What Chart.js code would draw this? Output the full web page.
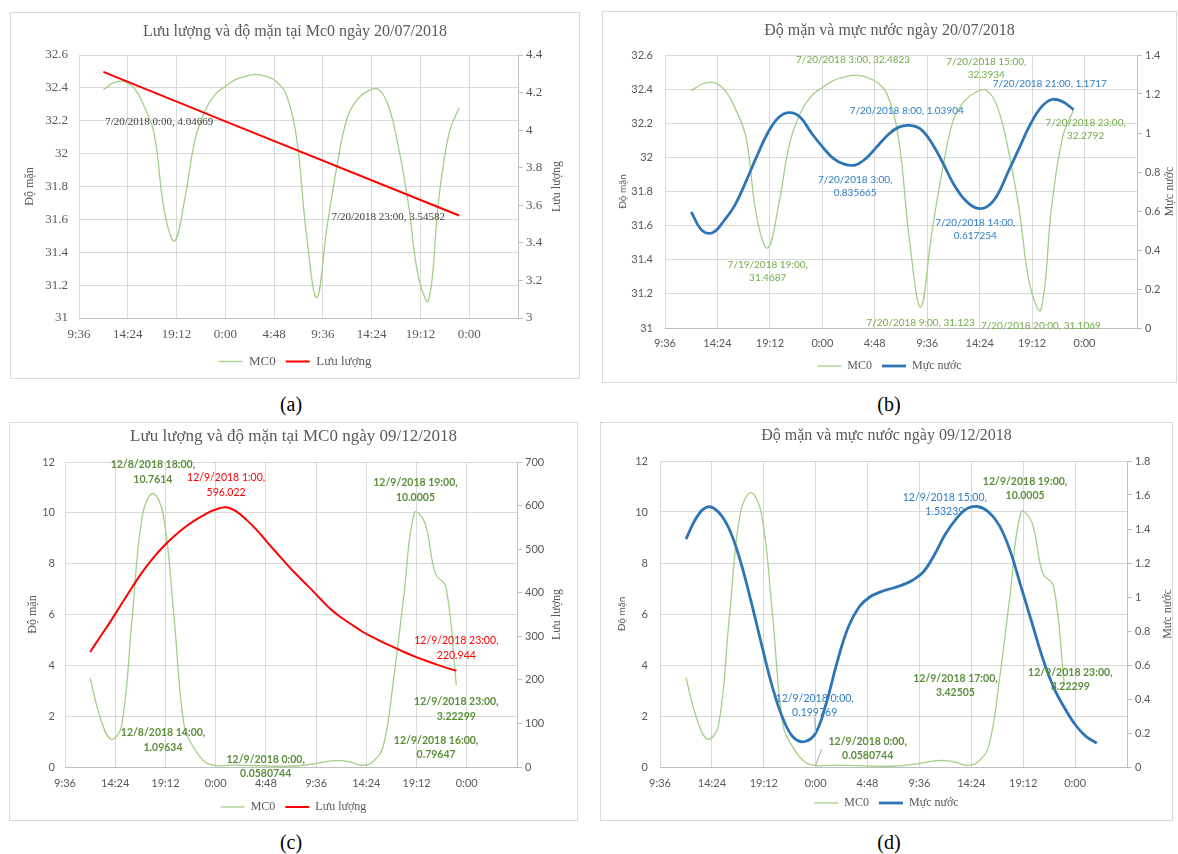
<!DOCTYPE html>
<html><head><meta charset="utf-8">
<script src="https://cdn.jsdelivr.net/npm/chart.js@4.4.1/dist/chart.umd.min.js"></script>
<style>
html,body{margin:0;padding:0;background:#fff;}
body{width:1178px;height:854px;position:relative;overflow:hidden;}
.box{position:absolute;border:1px solid #d9d9d9;box-sizing:content-box;background:#fff;}
.box canvas{display:block;}
.cap{position:absolute;width:60px;margin-left:-30px;text-align:center;font-family:'Liberation Serif',serif;font-size:20px;color:#000;line-height:20px;}
</style></head><body>
<div class="box" style="left:10px;top:12px;width:568px;height:365px"><canvas id="ca" width="568" height="365"></canvas></div>
<div class="box" style="left:602px;top:11px;width:573px;height:370px"><canvas id="cb" width="573" height="370"></canvas></div>
<div class="box" style="left:9px;top:422px;width:567px;height:397px"><canvas id="cc" width="567" height="397"></canvas></div>
<div class="box" style="left:600px;top:422px;width:571px;height:397px"><canvas id="cd" width="571" height="397"></canvas></div>
<div class="cap" style="left:291px;top:394px">(a)</div>
<div class="cap" style="left:889px;top:394px">(b)</div>
<div class="cap" style="left:291px;top:832px">(c)</div>
<div class="cap" style="left:889px;top:832px">(d)</div>
<script>
const SERIF = "'Liberation Serif', 'Times New Roman', serif";
const SANS = "Lato, 'Liberation Sans', sans-serif";

// ---- x axis (hours counted from 00:00 of the first day) ----
const xTickHours  = [9.6, 14.4, 19.2, 24, 28.8, 33.6, 38.4, 43.2, 48];
const xTickLabels = ['9:36', '14:24', '19:12', '0:00', '4:48', '9:36', '14:24', '19:12', '0:00'];

// hourly time stamps, 12:00 day 1 .. 23:00 day 2
const hours = [12,13,14,15,16,17,18,19,20,21,22,23,24,25,26,27,28,29,30,31,32,33,34,35,36,37,38,39,40,41,42,43,44,45,46,47];

// ---- 19-20/07/2018 ----
const julySalinity = [32.39,32.43,32.44,32.40,32.29,32.12,31.65,31.4687,31.72,32.08,32.26,32.36,
                      32.41,32.45,32.47,32.4823,32.47,32.44,32.36,32.10,31.50,31.123,31.55,31.93,
                      32.22,32.33,32.38,32.3934,32.30,32.05,31.70,31.25,31.1069,31.72,32.12,32.2792];
const julyFlowHours = [12, 24, 47];
const julyFlow = [4.31, 4.04669, 3.54582];
const julyLevel = [0.595,0.50,0.49,0.55,0.63,0.75,0.88,1.00,1.08,1.105,1.08,1.00,
                   0.93,0.87,0.84,0.835665,0.87,0.93,0.99,1.03,1.03904,1.02,0.95,0.85,
                   0.74,0.66,0.617254,0.62,0.68,0.80,0.92,1.04,1.13,1.1717,1.16,1.12];

// ---- 08-09/12/2018 ----
const decSalinity = [3.5,1.9,1.09634,1.6,5.8,9.9,10.7614,9.9,6.0,1.6,0.7,0.2,
                     0.0580744,0.06,0.07,0.06,0.05,0.04,0.03,0.03,0.05,0.1,0.17,0.24,
                     0.25,0.18,0.06,0.2,0.79647,3.42505,6.8,10.0005,9.6,7.6,7.1,3.22299];
const decFlow = [264,300,336,374,412,448,479,506,529,549,566,580,
                 591,596.022,586,566,542,514,487,460,435,411,386,362,
                 343,327,311,298,286,275,264,254,245,236,228,220.944];
const decLevelHours = [12,13,14,15,16,17,18,19,20,21,22,23,24,25,26,27,28,29,30,31,32,33,34,35,36,37,38,39,40,41,42,43,44,45,46,47,48,49,50];
const decLevel = [1.34,1.47,1.53,1.50,1.40,1.22,0.98,0.72,0.47,0.28,0.17,0.15,
                  0.199769,0.38,0.62,0.82,0.94,1.00,1.03,1.05,1.07,1.10,1.15,1.25,
                  1.37,1.46,1.52,1.53239,1.50,1.42,1.27,1.06,0.85,0.64,0.47,0.35,
                  0.25,0.18,0.14];

const pts = (xs, ys) => xs.map((x, i) => ({x: x, y: ys[i]}));
const julyBase = {m: 7, d: 19, y: 2018};
const decBase = {m: 12, d: 8, y: 2018};
function stamp(base, h) {
  return base.m + '/' + (base.d + Math.floor(h / 24)) + '/' + base.y + ' ' + (h % 24) + ':00';
}

const axisTitlePlugin = {
  id: 'axisTitles',
  afterDraw(chart, args, o) {
    const ctx = chart.ctx, ca = chart.chartArea;
    const cy = (ca.top + ca.bottom) / 2;
    [['l', o.left], ['r', o.right]].forEach(([side, t]) => {
      if (!t) return;
      ctx.save();
      ctx.font = t.font; ctx.fillStyle = '#595959';
      ctx.textAlign = 'center'; ctx.textBaseline = 'middle';
      ctx.translate(side === 'l' ? ca.left - t.off : ca.right + t.off, cy + (t.dy || 0));
      ctx.rotate(-Math.PI / 2);
      ctx.fillText(t.text, 0, 0);
      ctx.restore();
    });
  }
};

const ptLabelPlugin = {
  id: 'ptLabels',
  afterDatasetsDraw(chart, args, o) {
    const ctx = chart.ctx;
    (o.items || []).forEach(it => {
      const ds = chart.data.datasets[it.ds];
      const p = ds.data[it.i];
      const px = chart.scales.x.getPixelForValue(p.x);
      const py = chart.scales[ds.yAxisID].getPixelForValue(p.y);
      const s = stamp(o.base, p.x);
      const lines = it.two ? [s + ',', String(p.y)] : [s + ', ' + p.y];
      ctx.save();
      ctx.font = it.font || o.font;
      ctx.fillStyle = it.color;
      ctx.textBaseline = 'middle';
      ctx.textAlign = it.align || 'center';
      const lh = o.lh;
      const cx = px + (it.dx || 0), cy = py + (it.dy || 0);
      if (it.leader) {
        ctx.strokeStyle = '#a6a6a6'; ctx.lineWidth = 1;
        ctx.beginPath(); ctx.moveTo(px, py); ctx.lineTo(cx + it.leader[0], cy + it.leader[1]); ctx.stroke();
      }
      lines.forEach((t, k) => ctx.fillText(t, cx, cy + (k - (lines.length - 1) / 2) * lh));
      ctx.restore();
    });
  }
};

function makeChart(id, c) {
  const tickFmt = v => String(+(+v).toFixed(3));
  return new Chart(document.getElementById(id), {
    type: 'line',
    data: { datasets: c.datasets },
    options: {
      responsive: false, animation: false,
      layout: { padding: { left: 0, right: 0, top: 0, bottom: c.padB } },
      elements: { point: { radius: 0 }, line: { tension: 0.4 } },
      plugins: {
        title: { display: true, text: c.title, color: '#595959',
                 font: { family: SERIF, size: c.titleSize, weight: 'normal' },
                 padding: { top: c.titleTop, bottom: c.titleBottom } },
        legend: { position: 'bottom',
                  labels: { usePointStyle: true, pointStyle: 'line', pointStyleWidth: 24, padding: 10,
                            color: '#595959', font: { family: SERIF, size: c.legendSize },
                            sort: (a, b) => a.datasetIndex - b.datasetIndex } },
        tooltip: { enabled: false },
        axisTitles: c.axisTitles,
        ptLabels: c.ptLabels
      },
      scales: {
        x: { type: 'linear', min: 9.6, max: 52.8,
             afterBuildTicks: s => { s.ticks = xTickHours.map(v => ({ value: v })); },
             afterFit: s => { s.height = c.xH; },
             ticks: { autoSkip: false, maxRotation: 0, padding: c.xPad, color: '#595959', font: c.tickFont,
                      callback: (v, i) => xTickLabels[i] },
             grid: { color: '#d9d9d9', drawTicks: false },
             border: { color: '#bfbfbf' } },
        y: { position: 'left', min: c.yL[0], max: c.yL[1],
             afterFit: s => { s.width = c.yLW; },
             ticks: { stepSize: c.yL[2], padding: c.yLPad, color: '#595959', font: c.tickFont, callback: tickFmt },
             grid: { color: '#d9d9d9', drawTicks: false },
             border: { display: false } },
        y2: { position: 'right', min: c.yR[0], max: c.yR[1],
              afterFit: s => { s.width = c.yRW; },
              ticks: { stepSize: c.yR[2], padding: 3, color: '#595959', font: c.tickFont, callback: tickFmt },
              grid: { drawOnChartArea: false, color: '#bfbfbf', tickLength: 5 },
              border: { color: '#bfbfbf' } }
      }
    },
    plugins: [axisTitlePlugin, ptLabelPlugin]
  });
}

const GREEN_LINE = '#a3cf86';
const mc0 = (data) => ({ label: 'MC0', data: data, yAxisID: 'y', borderColor: GREEN_LINE, backgroundColor: GREEN_LINE,
                         borderWidth: 1.3, order: 2, fill: false });

// (a)
makeChart('ca', {
  title: 'Lưu lượng và độ mặn tại Mc0 ngày 20/07/2018', titleSize: 16, titleTop: 9.4, titleBottom: 13.4,
  legendSize: 13, padB: 0, xH: 27, xPad: 9, tickFont: { family: SERIF, size: 13 },
  yL: [31, 32.6, 0.2], yLW: 68, yLPad: 11, yR: [3, 4.4, 0.2], yRW: 61,
  datasets: [ mc0(pts(hours, julySalinity)),
    { label: 'Lưu lượng', data: pts(julyFlowHours, julyFlow), yAxisID: 'y2', borderColor: '#ff0000',
      backgroundColor: '#ff0000', borderWidth: 2, order: 1, tension: 0 } ],
  axisTitles: { left: { text: 'Độ mặn', off: 49, font: '12px ' + SERIF },
                right: { text: 'Lưu lượng', off: 39, font: '12px ' + SERIF } },
  ptLabels: { base: julyBase, font: '11px ' + SERIF, lh: 13, items: [
    { ds: 1, i: 1, align: 'right', dx: -12, dy: 1, color: '#404040' },
    { ds: 1, i: 2, align: 'right', dx: -14, dy: 2, color: '#404040' } ] }
});

// (b)
const GL = '#70ad47', BL = '#2e7dc4';
makeChart('cb', {
  title: 'Độ mặn và mực nước ngày 20/07/2018', titleSize: 16, titleTop: 9.4, titleBottom: 14.4,
  legendSize: 12, padB: 0, xH: 22, xPad: 9, tickFont: { family: SANS, size: 11 },
  yL: [31, 32.6, 0.2], yLW: 62, yLPad: 12, yR: [0, 1.4, 0.2], yRW: 39,
  datasets: [ mc0(pts(hours, julySalinity)),
    { label: 'Mực nước', data: pts(hours, julyLevel), yAxisID: 'y2', borderColor: '#2e75b6',
      backgroundColor: '#2e75b6', borderWidth: 2.8, order: 1 } ],
  axisTitles: { left: { text: 'Độ mặn', off: 42, font: '10px ' + SANS },
                right: { text: 'Mực nước', off: 33, font: '12px ' + SERIF } },
  ptLabels: { base: julyBase, font: '10px ' + SANS, lh: 13, items: [
    { ds: 0, i: 15, dx: -2, dy: -15, color: GL },
    { ds: 1, i: 20, dx: -3, dy: -15, color: BL },
    { ds: 1, i: 15, two: true, dy: 21.5, color: BL },
    { ds: 0, i: 7, two: true, dy: 23, color: GL },
    { ds: 0, i: 27, two: true, dy: -21.5, color: GL },
    { ds: 1, i: 33, dx: -2, dy: -15.5, color: BL },
    { ds: 0, i: 35, two: true, dx: 12, dy: 19.5, color: GL },
    { ds: 1, i: 26, two: true, dy: 21.5, color: BL },
    { ds: 0, i: 21, dy: 16, color: GL },
    { ds: 0, i: 32, dy: 16, color: GL } ] }
});

// (c)
const GD = '#5b8f3a';
makeChart('cc', {
  title: 'Lưu lượng và độ mặn tại MC0 ngày 09/12/2018', titleSize: 17, titleTop: 3.8, titleBottom: 14.8,
  legendSize: 12, padB: -3, xH: 24, xPad: 10, tickFont: { family: SANS, size: 11 },
  yL: [0, 12, 2], yLW: 55, yLPad: 10, yR: [0, 700, 100], yRW: 60,
  datasets: [ mc0(pts(hours, decSalinity)),
    { label: 'Lưu lượng', data: pts(hours, decFlow), yAxisID: 'y2', borderColor: '#ff0000',
      backgroundColor: '#ff0000', borderWidth: 2, order: 1 } ],
  axisTitles: { left: { text: 'Độ mặn', off: 32, font: '12px ' + SERIF },
                right: { text: 'Lưu lượng', off: 40, font: '12px ' + SERIF } },
  ptLabels: { base: decBase, font: 'bold 10.5px ' + SANS, lh: 14.5, items: [
    { ds: 0, i: 6, two: true, dy: -21.5, color: GD },
    { ds: 1, i: 13, two: true, dy: -22, color: '#ff0000', font: '10.5px ' + SANS },
    { ds: 0, i: 31, two: true, dx: 1, dy: -22.5, color: GD },
    { ds: 1, i: 35, two: true, dy: -22.5, color: '#ff0000', font: '10.5px ' + SANS },
    { ds: 0, i: 35, two: true, dy: 24, color: GD },
    { ds: 0, i: 28, two: true, dx: 53, dy: 1, color: GD },
    { ds: 0, i: 2, two: true, dx: 52, dy: 1, color: GD },
    { ds: 0, i: 12, two: true, dx: 50, dy: 1, color: GD } ] }
});

// (d)
makeChart('cd', {
  title: 'Độ mặn và mực nước ngày 09/12/2018', titleSize: 16, titleTop: 3.4, titleBottom: 15.4,
  legendSize: 12, padB: 1, xH: 20, xPad: 10, tickFont: { family: SANS, size: 11 },
  yL: [0, 12, 2], yLW: 59, yLPad: 12, yR: [0, 1.8, 0.2], yRW: 45,
  datasets: [ mc0(pts(hours, decSalinity)),
    { label: 'Mực nước', data: pts(decLevelHours, decLevel), yAxisID: 'y2', borderColor: '#2e75b6',
      backgroundColor: '#2e75b6', borderWidth: 2.8, order: 1 } ],
  axisTitles: { left: { text: 'Độ mặn', off: 38, font: '10px ' + SANS },
                right: { text: 'Mực nước', off: 41, font: '12px ' + SERIF } },
  ptLabels: { base: decBase, font: 'bold 10.5px ' + SANS, lh: 14, items: [
    { ds: 0, i: 31, two: true, dx: 4, dy: -23, color: GD },
    { ds: 1, i: 27, two: true, dx: -33, dy: -2, color: BL, font: '10.5px ' + SANS },
    { ds: 1, i: 12, two: true, dx: -1, dy: -27.5, color: BL, font: '10.5px ' + SANS, leader: [0, 12] },
    { ds: 0, i: 12, two: true, dx: 52, dy: -16.5, color: GD, leader: [-46, 0] },
    { ds: 0, i: 29, two: true, dx: -44, dy: 6, color: GD },
    { ds: 0, i: 35, two: true, dx: 6, dy: -5, color: GD } ] }
});
</script>
</body></html>
